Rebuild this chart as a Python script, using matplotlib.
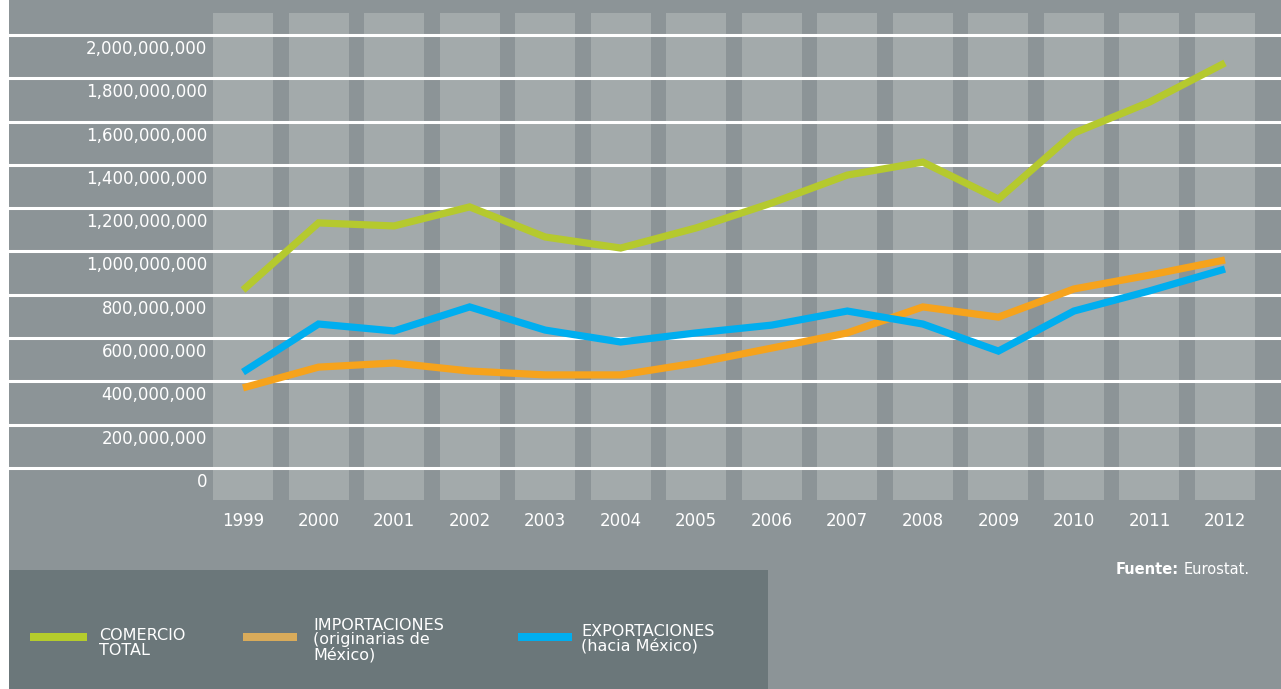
import matplotlib
matplotlib.use('Agg')
import matplotlib.pyplot as plt
from matplotlib.patches import Rectangle

years = ['1999', '2000', '2001', '2002', '2003', '2004', '2005',
         '2006', '2007', '2008', '2009', '2010', '2011', '2012']
# valores en millones de euros
comercio_total = [822, 1132, 1118, 1206, 1067, 1016, 1109,
                  1224, 1353, 1413, 1242, 1547, 1690, 1871]
importaciones = [370, 466, 485, 448, 430, 430, 485,
                 554, 624, 744, 697, 827, 891, 961]
exportaciones = [443, 665, 633, 744, 637, 582, 624,
                 660, 725, 665, 540, 725, 818, 919]
yticks = [0, 200, 400, 600, 800, 1000, 1200, 1400, 1600, 1800, 2000]

BG = '#8c9497'
COL = '#a3aaab'
BOX = '#6b777a'
GREEN = '#b5c92e'
ORANGE = '#f6a31c'
BLUE = '#00aeef'

W, H = 1281, 689
fig = plt.figure(figsize=(W / 100, H / 100), dpi=100)
fig.patch.set_facecolor('white')
fig.patches.append(Rectangle((9 / W, 0), 1 - 9 / W, 1, transform=fig.transFigure,
                             facecolor=BG, edgecolor='none', zorder=-10))
fig.patches.append(Rectangle((9 / W, 0), (768 - 9) / W, (689 - 570) / H,
                             transform=fig.transFigure, facecolor=BOX,
                             edgecolor='none', zorder=-5))

# axes: columns span pixel x 213..1255, y 13..500
ax = fig.add_axes([213 / W, 1 - 500 / H, (1255 - 213) / W, (500 - 13) / H])
ax.set_zorder(1)
ax.set_facecolor('none')
for s in ax.spines.values():
    s.set_visible(False)
x = list(range(len(years)))
half = 30 / 75.54
ax.set_xlim(-half, len(years) - 1 + half)
ypx = 433 / 2000  # pixels per million
ylo, yhi = -(500 - 468) / ypx, (468 - 13) / ypx
ax.set_ylim(ylo, yhi)
ax.set_xticks([])
ax.set_yticks([])

ax.bar(x, [yhi - ylo] * len(x), bottom=ylo, width=2 * half, color=COL, zorder=1)

x0 = (9 - 213) / 1042
x1 = (1281 - 213) / 1042
for t in yticks:
    ax.axhline(t, xmin=x0, xmax=x1, color='white', lw=2.2, clip_on=False, zorder=2)
    ax.annotate(f'{t * 1000000:,}', xy=(x0, t), xycoords=('axes fraction', 'data'),
                xytext=(207 - 9, -14), textcoords='offset pixels',
                ha='right', va='center', color='white', fontsize=12)

for serie, c in [(comercio_total, GREEN), (importaciones, ORANGE), (exportaciones, BLUE)]:
    ax.plot(x, serie, color=c, lw=5.2, zorder=3,
            solid_joinstyle='miter', solid_capstyle='butt')

for i, yr in enumerate(years):
    ax.annotate(yr, xy=(i, 0), xycoords=('data', 'axes fraction'),
                xytext=(0, -21), textcoords='offset pixels',
                ha='center', va='center', color='white', fontsize=12)

# fuente
fig.text(1116 / W, 1 - 569 / H, 'Fuente:', color='white', fontsize=10.5,
         fontweight='bold', ha='left', va='center')
fig.text(1250 / W, 1 - 569 / H, 'Eurostat.', color='white', fontsize=10.5,
         ha='right', va='center')

# leyenda
def swatch(xa, xb, y, c):
    fig.patches.append(Rectangle((xa / W, 1 - (y + 4) / H), (xb - xa) / W, 8 / H,
                                 transform=fig.transFigure, facecolor=c,
                                 edgecolor='none', zorder=2))

swatch(30, 87, 637, '#b5cc2c')
swatch(243, 297, 637, '#d9ab5a')
swatch(518, 572, 637, BLUE)
lkw = dict(color='white', fontsize=11.5, ha='left', va='center', linespacing=0.95)
fig.text(99 / W, 1 - 643 / H, 'COMERCIO\nTOTAL', **lkw)
fig.text(313 / W, 1 - 640 / H, 'IMPORTACIONES\n(originarias de\nMéxico)', **lkw)
fig.text(581 / W, 1 - 639 / H, 'EXPORTACIONES\n(hacia México)', **lkw)

fig.savefig('out.png', dpi=100, facecolor=fig.get_facecolor())
